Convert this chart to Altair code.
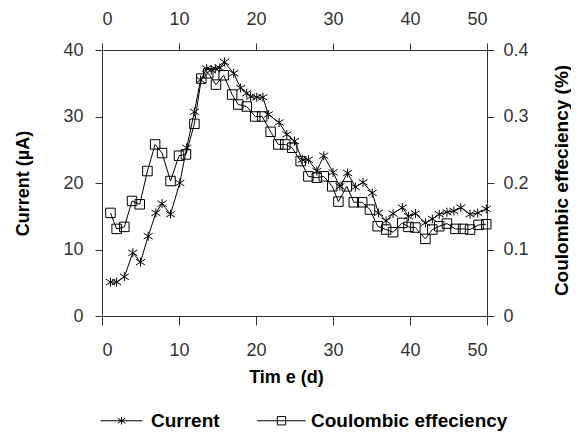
import altair as alt
import pandas as pd

# ---- data ----
cur_day = [1.1, 1.9, 2.9, 4.0, 5.0, 6.0, 7.0, 7.8, 8.9, 10.1, 11.0, 12.0, 12.8, 13.6, 14.2, 14.7,
           15.3, 15.9, 17.1, 18.0, 18.8, 19.3, 20.1, 20.9, 21.6, 23.0, 24.0, 25.0, 26.0, 26.8, 27.9,
           28.8, 30.0, 30.9, 31.9, 32.9, 33.9, 35.1, 35.9, 36.9, 37.8, 39.0, 39.8, 40.7, 42.0, 42.9,
           43.8, 44.8, 45.7, 46.6, 47.8, 48.8, 49.9]
cur_val = [5.1, 5.1, 5.9, 9.5, 8.1, 12.0, 15.5, 16.9, 15.3, 20.0, 25.3, 30.7, 35.5, 37.2, 37.0, 37.2,
           37.3, 38.2, 36.5, 34.3, 33.5, 33.0, 32.9, 32.9, 30.3, 29.1, 27.3, 26.3, 23.5, 23.5, 21.8,
           24.1, 21.6, 19.5, 21.5, 19.4, 20.1, 18.5, 15.5, 14.3, 15.4, 16.3, 15.0, 15.4, 14.0, 14.6,
           15.3, 15.6, 15.8, 16.3, 15.3, 15.5, 16.1]

ce_day = [1.1, 1.9, 2.9, 3.9, 4.9, 5.9, 6.9, 7.8, 8.9, 10.0, 10.9, 12.0, 12.9, 13.8, 14.8, 15.8,
          16.9, 17.7, 18.8, 19.9, 20.8, 21.9, 22.9, 23.8, 24.7, 25.8, 26.8, 27.9, 28.8, 29.9, 30.7,
          31.8, 32.7, 33.8, 34.8, 35.8, 36.9, 37.8, 39.0, 39.8, 40.7, 42.0, 42.9, 43.8, 44.8, 45.9,
          46.9, 47.8, 48.9, 49.9]
ce_val = [0.155, 0.131, 0.134, 0.173, 0.168, 0.218, 0.258, 0.245, 0.203, 0.241, 0.243, 0.289,
          0.357, 0.365, 0.348, 0.362, 0.333, 0.318, 0.315, 0.300, 0.300, 0.277, 0.258, 0.258,
          0.253, 0.233, 0.210, 0.208, 0.210, 0.195, 0.172, 0.195, 0.171, 0.171, 0.160, 0.135,
          0.130, 0.126, 0.140, 0.134, 0.133, 0.116, 0.130, 0.135, 0.139, 0.131, 0.131, 0.130,
          0.137, 0.138]

series_names = ["Current", "Coulombic effeciency"]
x_ticks = [0, 10, 20, 30, 40, 50]
cur_ticks = [0, 10, 20, 30, 40]
ce_ticks = [0, 0.1, 0.2, 0.3, 0.4]

cur = pd.DataFrame({"day": cur_day, "current": cur_val})
ce = pd.DataFrame({"day": ce_day, "ce": ce_val})
leg = pd.DataFrame({"series": series_names})

FONT = "Liberation Sans"
INK = "#333333"
ASTER = "M0,-1L0,1M-1,-0.65L1,0.65M-1,0.65L1,-0.65"
LEG_AST = "M-5,0L5,0M0,-0.9L0,0.9M-0.9,-0.6L0.9,0.6M-0.9,0.6L0.9,-0.6"
LEG_SQ = "M-5.8,0L5.8,0M-1,-1L1,-1L1,1L-1,1Z"

xsc = alt.Scale(domain=[0, 50], nice=False, zero=False)

x_bottom_axis = alt.Axis(orient="bottom", values=x_ticks, tickSize=9, labelPadding=16,
                         title="Tim e (d)", titleFontSize=18, titleX=184, titleY=61,
                         titleAlign="center", titleBaseline="middle")
x_top_axis = alt.Axis(orient="top", values=x_ticks, tickSize=7, labelPadding=15, title="")

y_left_axis = alt.Axis(orient="left", values=cur_ticks, tickSize=7, labelPadding=12,
                       title="Current (µA)", titleFontSize=18, titleAngle=270, titleX=-79,
                       titleY=133, titleAlign="center", titleBaseline="middle")
y_right_axis = alt.Axis(orient="right", values=ce_ticks, format="~g", tickSize=7, labelPadding=9,
                        title="Coulombic effeciency (%)", titleFontSize=19, titleAngle=270,
                        titleX=74, titleY=130, titleAlign="center", titleBaseline="middle")

cur_enc = dict(
    x=alt.X("day:Q", scale=xsc, axis=x_bottom_axis),
    y=alt.Y("current:Q", scale=alt.Scale(domain=[0, 40], nice=False), axis=y_left_axis),
)
ce_enc = dict(
    x=alt.X("day:Q", scale=xsc, axis=x_top_axis),
    y=alt.Y("ce:Q", scale=alt.Scale(domain=[0, 0.4], nice=False), axis=y_right_axis),
)

cur_layer = alt.layer(
    alt.Chart(cur).mark_line(color="black", strokeWidth=1).encode(**cur_enc),
    alt.Chart(cur).mark_point(shape=ASTER, size=81, color="black", strokeWidth=1,
                              filled=False, opacity=1).encode(**cur_enc),
)
ce_layer = alt.layer(
    alt.Chart(ce).mark_line(color="black", strokeWidth=1).encode(**ce_enc),
    alt.Chart(ce).mark_point(shape="square", size=90, color="black", strokeWidth=1,
                             filled=False, opacity=1).encode(**ce_enc),
)
legend_layer = alt.Chart(leg).mark_point(filled=False, color="black", opacity=0, size=70).encode(
    shape=alt.Shape("series:N",
                    scale=alt.Scale(domain=series_names, range=[LEG_AST, LEG_SQ]),
                    legend=alt.Legend(orient="none", legendX=10, legendY=361,
                                      direction="horizontal", title=None,
                                      labelFont=FONT, labelFontSize=19, labelFontWeight="bold",
                                      labelColor="black", labelOffset=20, columnPadding=35,
                                      labelLimit=400,
                                      symbolSize=70, symbolStrokeWidth=1,
                                      symbolStrokeColor="black", symbolOpacity=1, padding=0))
)

chart = alt.layer(cur_layer, ce_layer, legend_layer).resolve_scale(
    x="independent", y="independent", shape="independent"
).properties(
    width=385, height=266,
    autosize=alt.AutoSizeParams(type="none"),
    padding={"left": 94, "top": 42, "right": 84, "bottom": 115},
).configure_view(stroke=None).configure_axis(
    grid=False, labelFont=FONT, labelFontSize=18, labelColor=INK,
    domainColor=INK, tickColor=INK, domainWidth=1, tickWidth=1,
    titleFont=FONT, titleFontWeight="bold", titleColor="black",
)

chart.save("out.html", embed_options={"renderer": "svg", "actions": False})
